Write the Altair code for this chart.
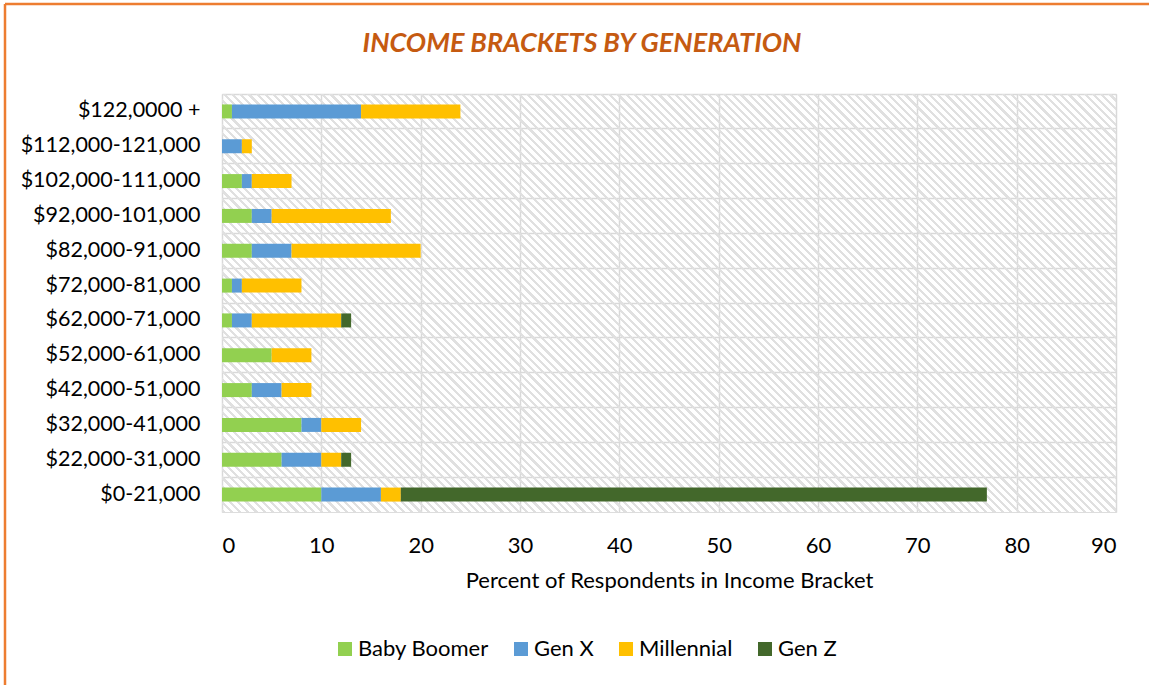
import altair as alt
import pandas as pd

brackets = ["$122,0000 +", "$112,000-121,000", "$102,000-111,000", "$92,000-101,000",
            "$82,000-91,000", "$72,000-81,000", "$62,000-71,000", "$52,000-61,000",
            "$42,000-51,000", "$32,000-41,000", "$22,000-31,000", "$0-21,000"]
generations = ["Baby Boomer", "Gen X", "Millennial", "Gen Z"]
baby_boomer = [1, 0, 2, 3, 3, 1, 1, 5, 3, 8, 6, 10]
gen_x = [13, 2, 1, 2, 4, 1, 2, 0, 3, 2, 4, 6]
millennial = [10, 1, 4, 12, 13, 6, 9, 4, 3, 4, 2, 2]
gen_z = [0, 0, 0, 0, 0, 0, 1, 0, 0, 0, 1, 59]
x_ticks = [0, 10, 20, 30, 40, 50, 60, 70, 80, 90]
colors = ["#92D050", "#5B9BD5", "#FFC000", "#43682B"]
title_text = "INCOME BRACKETS BY GENERATION"

series = [baby_boomer, gen_x, millennial, gen_z]
rows = []
for gi, (g, vals) in enumerate(zip(generations, series)):
    for b, v in zip(brackets, vals):
        rows.append({"bracket": b, "generation": g, "value": v, "order": gi})
df = pd.DataFrame(rows)

W, H = 894, 418
FONT = "Lato"

# diagonal hatch as a striped linear gradient (stripes at 45 degrees)
r = H / W
k = (1 + r) / (1 + r * r)
N = 160
f = 0.4
stripe = "#e0e0e0"
clear = "rgba(255,255,255,0)"
stops = []
for i in range(N):
    a = i / N
    b = (i + f) / N
    c = (i + 1) / N
    stops += [alt.GradientStop(offset=round(a, 5), color=stripe),
              alt.GradientStop(offset=round(b, 5), color=stripe),
              alt.GradientStop(offset=round(b, 5), color=clear),
              alt.GradientStop(offset=round(c, 5), color=clear)]
hatch_fill = alt.LinearGradient(gradient="linear", stops=stops,
                                x1=0, y1=1, x2=round(k, 5), y2=round(1 - k * r, 5))

one = pd.DataFrame({"a": [0]})

bg = alt.Chart(one).mark_rect(fill=hatch_fill, strokeWidth=0).encode(
    x=alt.value(0), x2=alt.value(W), y=alt.value(0), y2=alt.value(H)
)

bars = alt.Chart(df).mark_bar(size=14).encode(
    y=alt.Y("bracket:N", sort=brackets, title=None,
            scale=alt.Scale(paddingInner=0, paddingOuter=0),
            axis=alt.Axis(bandPosition=0, grid=True, gridColor="#d9d9d9", gridWidth=1.5,
                          ticks=False, domain=False, labelFont=FONT, labelFontSize=21.5,
                          labelColor="#000000", labelPadding=22)),
    x=alt.X("value:Q", stack="zero", title="Percent of Respondents in Income Bracket",
            scale=alt.Scale(domain=[0, 90], nice=False),
            axis=alt.Axis(values=x_ticks, grid=True, gridColor="#d9d9d9", gridWidth=1.5,
                          ticks=False, domain=False, labelFont=FONT, labelFontSize=22,
                          labelColor="#000000", labelPadding=23, titleFont=FONT,
                          titleFontSize=22, titleFontWeight="normal", titleColor="#000000",
                          titlePadding=14)),
    color=alt.Color("generation:N", sort=generations,
                    scale=alt.Scale(domain=generations, range=colors),
                    legend=alt.Legend(title=None, orient="none", direction="horizontal",
                                      legendX=112, legendY=544, symbolType="square",
                                      symbolSize=196, symbolStrokeWidth=0,
                                      labelFont=FONT, labelFontSize=22, labelColor="#000000",
                                      labelOffset=2, columnPadding=21)),
    order=alt.Order("order:Q"),
)

title = alt.Chart(one).mark_text(
    text=title_text, font=FONT, fontSize=27, fontWeight="bold", fontStyle="italic",
    color="#C55A11", align="center", baseline="alphabetic"
).encode(x=alt.value(360), y=alt.value(-42))

border_top = alt.Chart(one).mark_rule(color="#ED7D31", strokeWidth=2.5).encode(
    x=alt.value(-217), x2=alt.value(940), y=alt.value(-90)
)
border_left = alt.Chart(one).mark_rule(color="#ED7D31", strokeWidth=2.5).encode(
    x=alt.value(-217), y=alt.value(-90), y2=alt.value(600)
)

chart = alt.layer(bg, bars, title, border_top, border_left).properties(
    width=W, height=H,
    autosize=alt.AutoSizeParams(type="none"),
    padding={"left": 222, "top": 94, "right": 33, "bottom": 173},
).configure_view(stroke="#d9d9d9", strokeWidth=1.5, fill="white").configure(background="white")

chart.save("out.html", embed_options={"renderer": "svg", "actions": False})
